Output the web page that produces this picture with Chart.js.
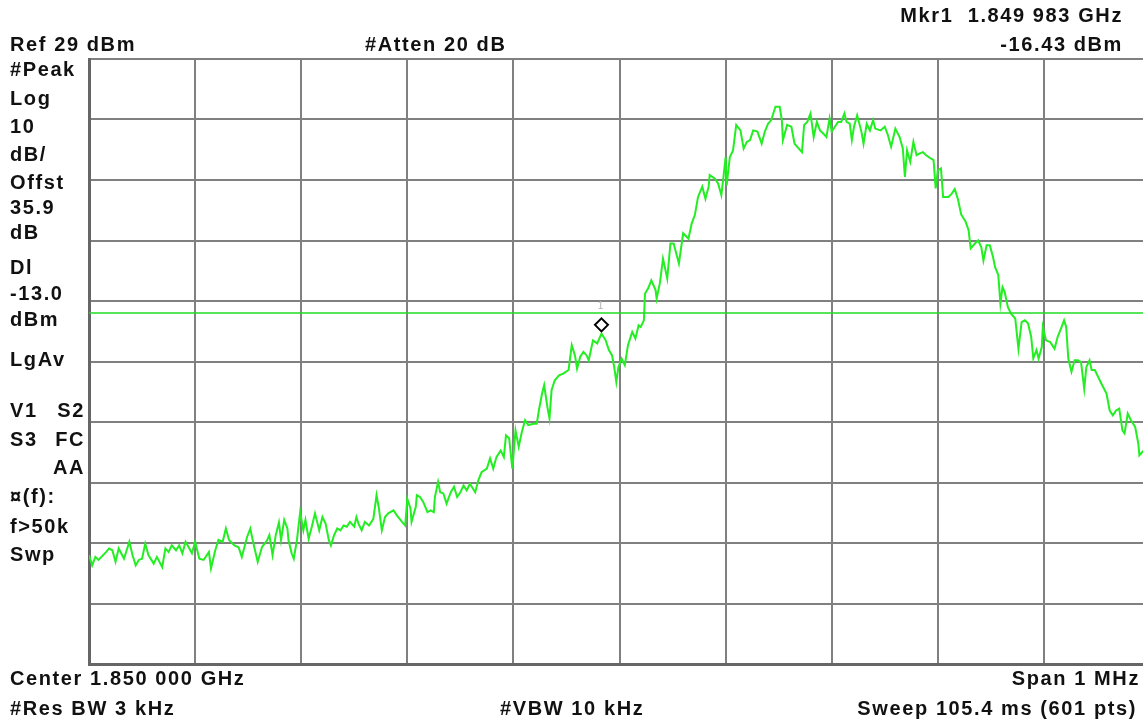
<!DOCTYPE html>
<html>
<head>
<meta charset="utf-8">
<script src="https://cdn.jsdelivr.net/npm/chart.js@4.4.1/dist/chart.umd.min.js"></script>
<style>
  html, body { margin: 0; padding: 0; background: #fff; }
  #wrap { position: relative; width: 1143px; height: 722px; }
</style>
</head>
<body>
<div id="wrap"><canvas id="chart"></canvas></div>
<script>
// trace: offset from 1.850 GHz centre (kHz) and level (dBm)
const freqKHz = [
  -500, -497, -494, -491, -484, -481, -478, -475, -472, -467, -462, -459, -456, -453, -450, -447,
  -444, -439, -436, -431, -428, -425, -422, -418, -415, -412, -409, -406, -403, -400, -396, -392,
  -387, -385, -381, -378, -374, -371, -368, -363, -359, -356, -351, -348, -345, -341, -337, -332,
  -330, -327, -324, -321, -319, -316, -313, -312, -309, -307, -304, -301, -298, -296, -293, -290,
  -287, -283, -280, -277, -274, -272, -269, -266, -263, -260, -257, -254, -250, -248, -246, -243,
  -240, -236, -232, -229, -227, -224, -221, -218, -213, -210, -205, -202, -200, -197, -196, -192,
  -191, -188, -185, -181, -178, -175, -174, -171, -169, -166, -163, -159, -156, -153, -150, -147,
  -144, -141, -136, -133, -130, -125, -122, -119, -116, -112, -109, -107, -104, -101, -98, -95,
  -92, -89, -86, -81, -78, -76, -73, -71, -68, -66, -64, -61, -57, -53, -48, -45,
  -42, -40, -37, -34, -31, -29, -25, -21, -17, -13, -10, -7, -5, -3, -1, 2,
  5, 8, 12, 15, 18, 20, 23, 24, 27, 30, 34, 35, 38, 41, 45, 48,
  51, 56, 60, 65, 68, 71, 74, 78, 81, 84, 85, 90, 93, 96, 98, 100,
  101, 104, 107, 110, 114, 117, 120, 123, 126, 130, 134, 137, 140, 143, 147, 151,
  153, 154, 158, 162, 165, 169, 172, 174, 177, 180, 183, 186, 189, 192, 195, 198,
  200, 203, 206, 209, 212, 214, 217, 219, 221, 224, 228, 230, 233, 236, 239, 241,
  246, 250, 253, 256, 260, 264, 267, 269, 271, 274, 277, 280, 283, 286, 289, 293,
  296, 298, 300, 303, 305, 308, 310, 313, 316, 319, 322, 326, 329, 331, 335, 338,
  341, 343, 346, 349, 352, 354, 357, 359, 361, 363, 366, 369, 373, 376, 379, 382,
  385, 388, 390, 393, 395, 398, 399, 402, 406, 410, 413, 416, 419, 421, 423, 426,
  429, 432, 435, 438, 440, 443, 445, 448, 451, 454, 459, 462, 465, 468, 471, 474,
  476, 479, 482, 486, 489, 490, 495
];
const traceDbm = [
  -53.0, -54.7, -53.3, -53.8, -52.5, -51.9, -52.2, -54.1, -51.9, -53.6, -50.8, -53.0, -54.7, -53.8, -53.6, -51.1,
  -53.0, -54.4, -53.3, -55.0, -51.9, -52.5, -51.4, -52.2, -51.4, -52.7, -50.8, -51.7, -52.7, -50.8, -53.6, -53.8,
  -52.5, -55.2, -52.2, -50.5, -50.8, -48.6, -50.5, -51.4, -51.7, -53.3, -50.0, -48.6, -51.1, -54.1, -51.7, -50.5,
  -49.7, -53.0, -49.7, -47.6, -50.5, -47.2, -48.6, -50.5, -52.7, -53.6, -50.5, -45.9, -48.9, -47.2, -50.3, -48.3,
  -46.1, -48.9, -46.7, -47.8, -50.5, -51.4, -49.7, -48.6, -48.9, -48.1, -48.3, -47.5, -48.3, -46.7, -47.8, -48.9,
  -47.5, -48.1, -47.0, -43.1, -45.0, -48.9, -46.7, -46.1, -45.6, -46.4, -47.5, -48.1, -43.7, -45.3, -47.5, -45.0,
  -43.1, -43.4, -44.2, -45.9, -45.6, -45.9, -43.4, -40.9, -42.6, -42.8, -44.5, -42.6, -41.7, -43.4, -42.6, -41.5,
  -42.3, -41.2, -42.6, -40.6, -39.3, -38.7, -37.0, -38.7, -36.8, -35.7, -36.8, -33.2, -33.7, -38.7, -32.4, -35.1,
  -32.6, -30.7, -31.5, -31.3, -31.3, -29.1, -26.3, -24.9, -28.5, -30.4, -25.7, -24.1, -23.3, -23.0, -22.4, -18.3,
  -20.0, -22.2, -20.2, -19.4, -20.0, -20.8, -17.5, -18.0, -16.4, -17.5, -19.1, -20.0, -21.9, -24.4, -21.9, -20.5,
  -21.6, -18.3, -16.1, -17.2, -15.0, -15.3, -14.2, -9.8, -8.9, -7.6, -9.2, -10.6, -8.1, -4.0, -7.3, -1.5,
  -1.5, -4.8, 0.2, -0.7, 1.8, 3.2, 6.2, 7.9, 5.9, 7.9, 9.8, 9.2, 8.4, 6.5, 9.5, 12.8,
  8.1, 12.8, 13.9, 18.1, 17.2, 14.2, 15.3, 15.6, 17.2, 17.0, 15.0, 17.0, 18.3, 18.9, 21.1, 21.1,
  18.9, 15.6, 18.1, 17.8, 15.0, 14.2, 13.6, 18.1, 18.6, 20.0, 16.1, 18.6, 17.2, 16.7, 16.1, 19.2,
  17.0, 17.8, 18.6, 18.6, 20.0, 18.6, 18.3, 15.6, 17.8, 19.7, 17.0, 15.0, 18.3, 17.2, 18.9, 17.5,
  17.2, 17.8, 16.4, 14.5, 17.5, 16.1, 14.2, 9.5, 13.9, 12.0, 15.3, 13.1, 13.4, 13.6, 13.1, 12.6,
  12.3, 7.6, 10.6, 10.9, 6.2, 6.2, 6.2, 6.7, 7.5, 5.8, 3.3, 2.2, 0.7, -2.3, -1.5, -1.0,
  -2.1, -4.3, -1.8, -1.8, -3.7, -5.4, -6.7, -11.4, -8.7, -9.5, -12.0, -13.1, -13.9, -18.9, -14.5, -14.2,
  -14.7, -16.9, -20.5, -19.1, -20.5, -18.6, -15.3, -17.5, -17.8, -18.9, -16.9, -15.6, -14.2, -15.3, -20.5, -22.7,
  -20.8, -20.8, -21.1, -25.5, -21.9, -20.8, -22.4, -22.4, -23.5, -24.6, -26.3, -29.1, -29.9, -29.1, -28.8, -32.4,
  -32.9, -29.6, -30.7, -31.8, -34.6, -36.5, -35.5
];

// screen grid: 100 kHz and 10 dB per division, Ref 29 dBm at the top
const xGridKHz = [-500, -400, -300, -200, -100, 0, 100, 200, 300, 400];
const yGridDbm = [29, 19, 9, -1, -11, -21, -31, -41, -51, -61, -71];
const xMinKHz = -500;
const xMaxKHz = 493.4; // screen grab is cut just before the right edge
const displayLineDbm = -13.0;
const marker = { freqKHz: -17, levelDbm: -16.43, label: '1' };

const topTexts = [
  ['Mkr1  1.849 983 GHz', 1123, 16, 'right'],
  ['Ref 29 dBm', 10, 45, 'left'],
  ['#Atten 20 dB', 365, 45, 'left'],
  ['-16.43 dBm', 1123, 45, 'right'],
];
const bottomTexts = [
  ['Center 1.850 000 GHz', 10, 679, 'left'],
  ['Span 1 MHz', 1140, 679, 'right'],
  ['#Res BW 3 kHz', 10, 709, 'left'],
  ['#VBW 10 kHz', 500, 709, 'left'],
  ['Sweep 105.4 ms (601 pts)', 1137, 709, 'right'],
];
const sideTexts = [
  ['#Peak', 10, 70, 'left'],
  ['Log', 10, 99, 'left'],
  ['10', 10, 127, 'left'],
  ['dB/', 10, 155, 'left'],
  ['Offst', 10, 183, 'left'],
  ['35.9', 10, 208, 'left'],
  ['dB', 10, 233, 'left'],
  ['Dl', 10, 268, 'left'],
  ['-13.0', 10, 294, 'left'],
  ['dBm', 10, 320, 'left'],
  ['LgAv', 10, 360, 'left'],
  ['V1', 10, 411, 'left'],
  ['S2', 85, 411, 'right'],
  ['S3', 10, 440, 'left'],
  ['FC', 85, 440, 'right'],
  ['AA', 85, 468, 'right'],
  ['\u00A4(f):', 10, 497, 'left'],
  ['f>50k', 10, 527, 'left'],
  ['Swp', 10, 555, 'left'],
];

const annotations = {
  id: 'annotations',
  afterDraw(chart) {
    const { ctx, chartArea, scales } = chart;
    ctx.save();
    // display line
    const yDl = scales.y.getPixelForValue(displayLineDbm);
    ctx.strokeStyle = '#22dd22';
    ctx.lineWidth = 1.5;
    ctx.beginPath();
    ctx.moveTo(chartArea.left, yDl);
    ctx.lineTo(chartArea.right, yDl);
    ctx.stroke();

    // marker diamond sits just above the trace point
    const mx = scales.x.getPixelForValue(marker.freqKHz);
    const my = scales.y.getPixelForValue(marker.levelDbm) - 9;
    ctx.fillStyle = '#fff';
    ctx.strokeStyle = '#000';
    ctx.lineWidth = 2;
    ctx.beginPath();
    ctx.moveTo(mx, my - 6.5);
    ctx.lineTo(mx + 6.5, my);
    ctx.lineTo(mx, my + 6.5);
    ctx.lineTo(mx - 6.5, my);
    ctx.closePath();
    ctx.fill();
    ctx.stroke();
    ctx.fillStyle = '#b0b0b0';
    ctx.font = '10px "Liberation Sans", Arial, sans-serif';
    ctx.textAlign = 'center';
    ctx.textBaseline = 'middle';
    ctx.fillText(marker.label, mx - 1, my - 19);

    // instrument annotations
    ctx.fillStyle = '#111';
    ctx.font = 'bold 20px "Liberation Sans", Arial, sans-serif';
    ctx.letterSpacing = '1.6px';
    ctx.textBaseline = 'middle';
    for (const [text, x, y, align] of [...topTexts, ...bottomTexts, ...sideTexts]) {
      ctx.textAlign = align;
      ctx.fillText(text, x, y);
    }
    ctx.restore();
  },
};

new Chart(document.getElementById('chart'), {
  type: 'line',
  data: {
    datasets: [
      {
        data: freqKHz.map((f, i) => ({ x: f, y: traceDbm[i] })),
        borderColor: '#22ee22',
        borderWidth: 2,
        pointRadius: 0,
        tension: 0,
        fill: false,
      },
    ],
  },
  options: {
    responsive: true,
    maintainAspectRatio: false,
    animation: false,
    layout: { padding: { left: 89, top: 59, right: 0, bottom: 58 } },
    scales: {
      x: {
        type: 'linear',
        min: xMinKHz,
        max: xMaxKHz,
        afterBuildTicks: (s) => { s.ticks = xGridKHz.map((v) => ({ value: v })); },
        afterFit: (s) => { s.height = 0; },
        ticks: { display: false },
        grid: { color: '#808080', lineWidth: 2, drawTicks: false },
        border: { display: true, color: '#666', width: 3 },
      },
      y: {
        type: 'linear',
        min: yGridDbm[yGridDbm.length - 1],
        max: yGridDbm[0],
        afterBuildTicks: (s) => { s.ticks = yGridDbm.map((v) => ({ value: v })); },
        afterFit: (s) => { s.width = 0; },
        ticks: { display: false },
        grid: { color: '#808080', lineWidth: 2, drawTicks: false },
        border: { display: true, color: '#666', width: 3 },
      },
    },
    plugins: {
      legend: { display: false },
      tooltip: { enabled: false },
    },
  },
  plugins: [annotations],
});
</script>
</body>
</html>
